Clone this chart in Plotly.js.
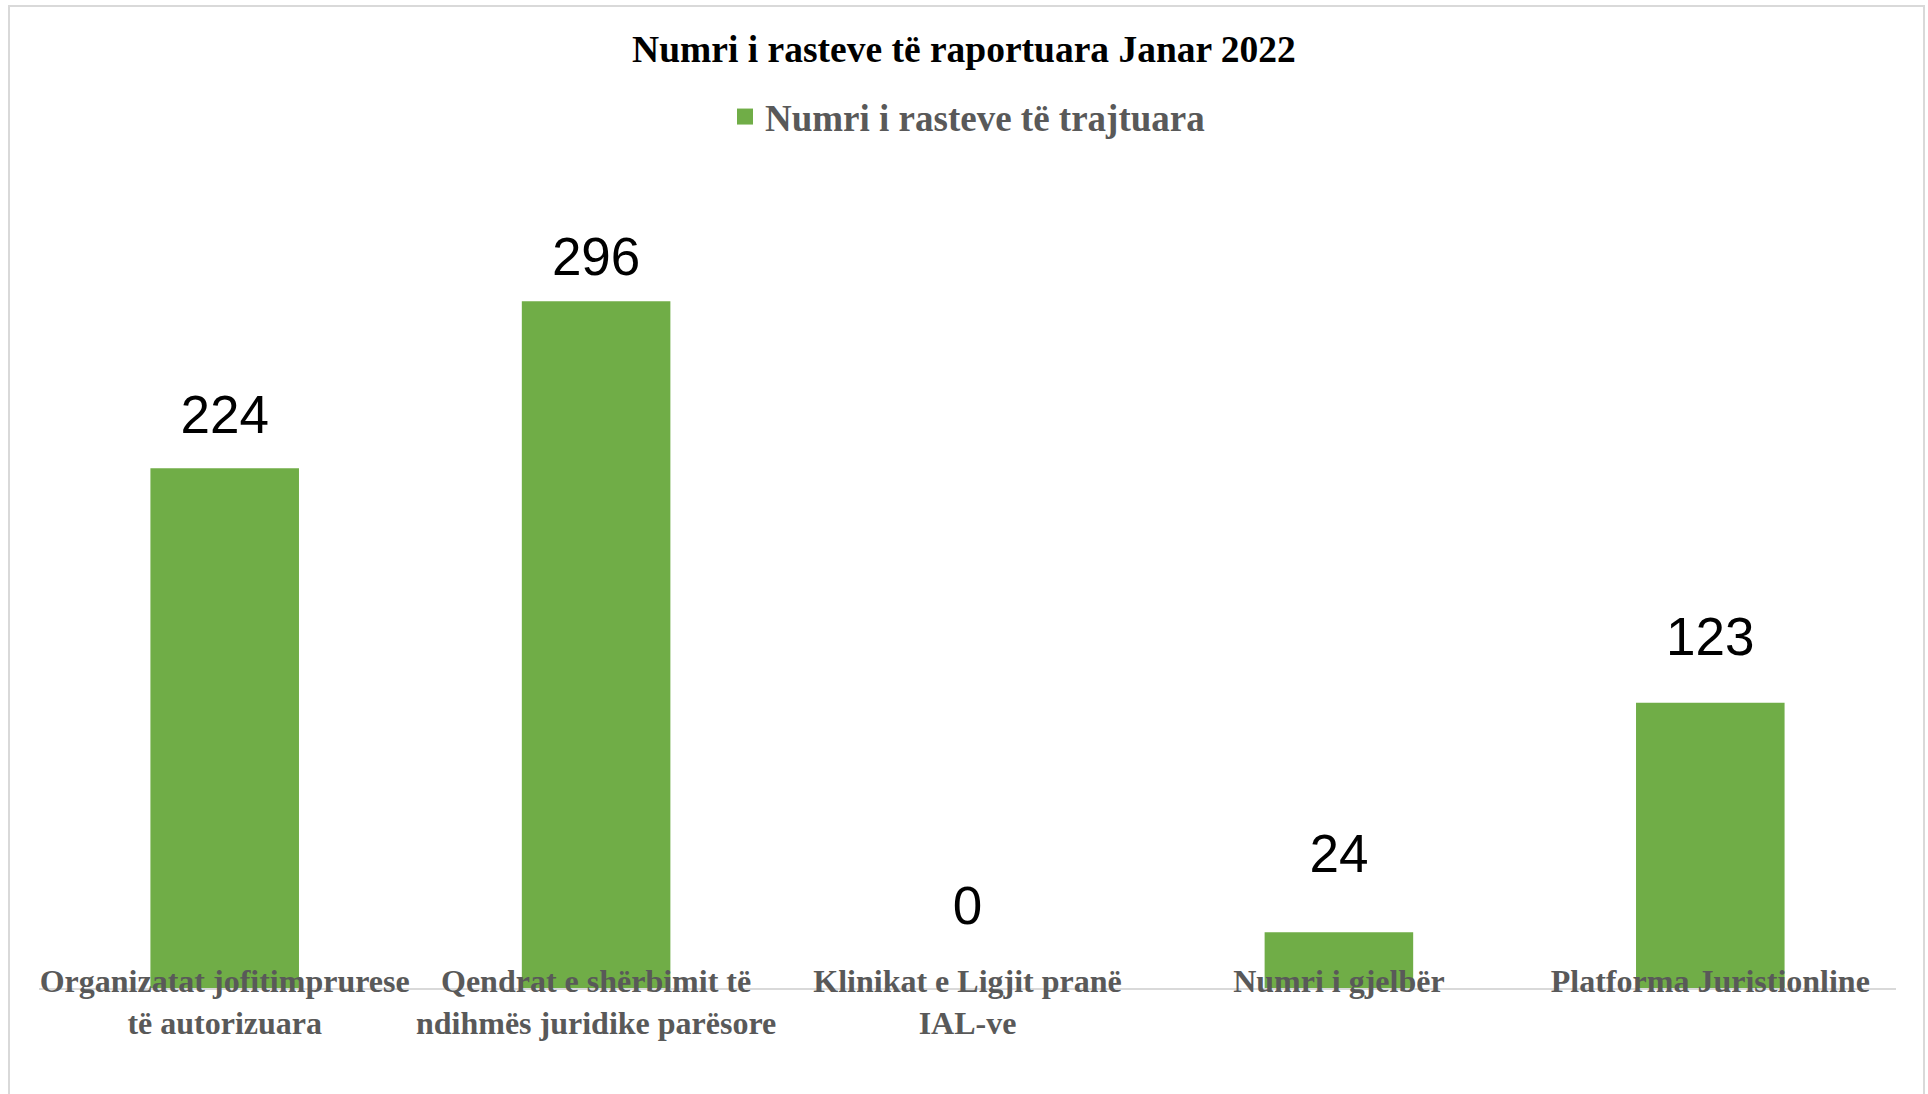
<!DOCTYPE html>
<html>
<head>
<meta charset="utf-8">
<script src="https://cdn.plot.ly/plotly-3.0.1.min.js"></script>
<style>
  html, body { margin: 0; padding: 0; background: #ffffff; }
  #wrap { position: relative; width: 1928px; height: 1094px; overflow: hidden; }
  #chart { position: absolute; left: 0; top: 0; width: 1928px; height: 1094px; }
  #frame { position: absolute; left: 8px; top: 5px; width: 1917px; height: 1100px;
           border: 2px solid #d9d9d9; box-sizing: border-box; pointer-events: none; }
</style>
</head>
<body>
<div id="wrap">
  <div id="chart"></div>
  <div id="frame"></div>
</div>
<script>
const chartTitle = "Numri i rasteve të raportuara Janar 2022";
const seriesName = "Numri i rasteve të trajtuara";
const categories = [
  "Organizatat jofitimprurese<br>të autorizuara",
  "Qendrat e shërbimit të<br>ndihmës juridike parësore",
  "Klinikat e Ligjit pranë<br>IAL-ve",
  "Numri i gjelbër",
  "Platforma Juristionline"
];
const values = [224, 296, 0, 24, 123];

const serif = "Liberation Serif, Times New Roman, serif";
const sans = "Liberation Sans, Arial, sans-serif";
const green = "#70AD47";

const traces = [
  {
    type: "bar",
    name: seriesName,
    x: categories,
    y: values,
    marker: { color: green },
    showlegend: false,
    hoverinfo: "x+y"
  },
  {
    type: "scatter",
    mode: "text",
    x: categories,
    y: values,
    yaxis: "y2",
    text: values.map(String),
    textposition: "middle center",
    textfont: { family: sans, size: 53, color: "#000000" },
    cliponaxis: false,
    showlegend: false,
    hoverinfo: "skip"
  },
  {
    type: "scatter",
    mode: "markers",
    name: seriesName,
    x: [null],
    y: [null],
    marker: { symbol: "square", size: 16, color: green },
    showlegend: true,
    hoverinfo: "skip"
  }
];

const layout = {
  width: 1928,
  height: 1094,
  paper_bgcolor: "#ffffff",
  plot_bgcolor: "#ffffff",
  margin: { l: 39, r: 32, t: 176, b: 106 },
  title: {
    text: "<b>" + chartTitle + "</b>",
    font: { family: serif, size: 37.5, color: "#000000" },
    x: 0.5, xanchor: "center",
    y: 1 - 49 / 1094, yanchor: "middle"
  },
  showlegend: true,
  legend: {
    orientation: "h",
    x: 0.5, xanchor: "center",
    y: (988 - 117) / 812, yanchor: "middle",
    font: { family: serif, size: 37, color: "#595959", weight: "bold" },
    itemsizing: "trace",
    itemclick: false, itemdoubleclick: false
  },
  bargap: 0.6,
  xaxis: {
    type: "category",
    showline: true,
    linecolor: "#d9d9d9",
    linewidth: 2,
    ticks: "",
    showgrid: false,
    zeroline: false,
    tickfont: { family: serif, size: 32, color: "#595959", weight: "bold" },
    ticklabelstandoff: -36,
    layer: "above traces"
  },
  yaxis: {
    range: [0, 350],
    visible: false,
    showgrid: false,
    zeroline: false,
    fixedrange: true
  },
  yaxis2: {
    overlaying: "y",
    range: [(911 - 988) / 2.192, (911 - 176) / 2.192],
    visible: false,
    showgrid: false,
    zeroline: false,
    fixedrange: true
  }
};

Plotly.newPlot("chart", traces, layout, { displayModeBar: false, staticPlot: true });
</script>
</body>
</html>
